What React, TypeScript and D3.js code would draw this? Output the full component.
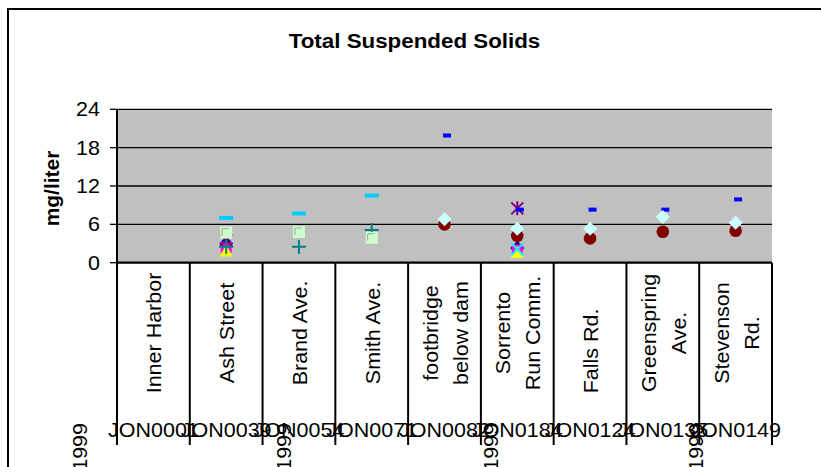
import React from "react";
import * as d3 from "d3";

// ---- data ----
const stations = [
  "Inner Harbor",
  "Ash Street",
  "Brand Ave.",
  "Smith Ave.",
  "footbridge\nbelow dam",
  "Sorrento\nRun Comm.",
  "Falls Rd.      ",
  "Greenspring\nAve.",
  "Stevenson\nRd.",
];
const stationCodes = [
  "JON0001", "JON0039", "JON0054", "JON0071", "JON0082",
  "JON0184", "JON0124", "JON0135", "JON0149",
];
const yearLabels = ["1999", "1999", "1999", "1999"];
const yearLabelPos = [-1.0, 1.8, 4.65, 7.46];
const yTicks = [0, 6, 12, 18, 24];

const s1 = [null, 3.0, null, null, null, 2.3, null, null, null];
const s2 = [null, 2.4, null, null, null, 2.0, null, null, null];
const s3 = [null, 1.9, null, null, null, 1.7, null, null, null];
const s4 = [null, null, null, null, null, 2.1, null, null, null];
const s5 = [null, 3.5, null, null, null, 8.5, null, null, null];
const s6 = [null, null, null, null, 6.0, 4.2, 3.8, 4.85, 5.0];
const s7 = [null, 2.5, 2.5, 5.1, null, null, null, null, null];
const s8 = [null, null, null, null, 19.9, 8.3, 8.3, 8.3, 9.9];
const s9 = [null, 7.0, 7.7, 10.5, null, null, null, null, null];
const s10 = [null, null, null, null, 6.8, 5.3, 5.3, 7.15, 6.25];
const s11 = [null, 4.7, 4.8, 3.9, null, null, null, null, null];

type Marker = "diamond" | "square" | "triangle" | "x" | "star" | "circle" | "plus" | "dash" | "longdash" | "square2";
const seriesList: { values: (number | null)[]; color: string; marker: Marker }[] = [
  { values: s1, color: "#000080", marker: "diamond" },
  { values: s2, color: "#FF00FF", marker: "square" },
  { values: s3, color: "#FFFF00", marker: "triangle" },
  { values: s4, color: "#00FFFF", marker: "x" },
  { values: s5, color: "#800080", marker: "star" },
  { values: s6, color: "#800000", marker: "circle" },
  { values: s7, color: "#008080", marker: "plus" },
  { values: s8, color: "#0000FF", marker: "dash" },
  { values: s9, color: "#00CCFF", marker: "longdash" },
  { values: s10, color: "#CCFFFF", marker: "diamond" },
  { values: s11, color: "#CCFFCC", marker: "square2" },
];

const FONT = "'Liberation Sans', Arial, Helvetica, sans-serif";
const FS = 20;
const SX = 1.075;

function MarkerShape({ m, color }: { m: Marker; color: string }) {
  switch (m) {
    case "diamond":
      return <path d="M0,-7L7,0L0,7L-7,0Z" fill={color} />;
    case "square":
      return <rect x={-5.5} y={-5.5} width={11} height={11} fill={color} />;
    case "square2":
      return (
        <g>
          <rect x={-6} y={-6} width={12} height={12} fill={color} />
          <path d="M-4,3V-4H3" fill="none" stroke="#A0A0A0" strokeWidth={1} />
        </g>
      );
    case "triangle":
      return <path d="M0,-6L6.5,6H-6.5Z" fill={color} />;
    case "x":
      return <path d="M-6,-6L6,6M6,-6L-6,6" stroke={color} strokeWidth={2} fill="none" />;
    case "star":
      return <path d="M-6,-6L6,6M6,-6L-6,6M0,-7V7" stroke={color} strokeWidth={2} fill="none" />;
    case "circle":
      return <circle r={6.3} fill={color} />;
    case "plus":
      return <path d="M-7,0H7M0,-7V7" stroke={color} strokeWidth={2} fill="none" />;
    case "dash":
      return <rect x={-1.5} y={-2} width={8} height={4} fill={color} />;
    case "longdash":
      return <rect x={-7} y={-2} width={14} height={4} fill={color} />;
  }
  return null;
}

export default function App() {
  const W = 821;
  const H = 467;
  const left = 117, right = 772, top = 109.3, bottom = 262.7;
  const x = d3.scaleBand<string>().domain(stations).range([left, right]).padding(0);
  const y = d3.scaleLinear().domain([0, 24]).range([bottom, top]);
  const bw = x.bandwidth();
  const cx = (i: number) => left + (i + 0.5) * bw;

  const textStyle = { fontFamily: FONT, fontSize: FS, fill: "#000" } as const;

  return (
    <svg width={W} height={H} style={{ position: "absolute", left: 0, top: 0, background: "#fff" }}>
      <rect x={0} y={0} width={W} height={H} fill="#fff" />
      {/* outer frame */}
      <rect x={8} y={9} width={W + 100} height={H + 100} fill="none" stroke="#000" strokeWidth={2} />

      {/* title */}
      <text
        transform={`translate(${414.5},${47.5}) scale(${SX},1)`}
        textAnchor="middle"
        style={{ ...textStyle, fontWeight: "bold", fontSize: 20.8 }}
      >
        Total Suspended Solids
      </text>

      {/* plot area */}
      <rect x={left} y={top} width={right - left} height={bottom - top} fill="#C0C0C0" />
      {yTicks.filter((t) => t > 0).map((t) => (
        <line key={t} x1={left} x2={right} y1={y(t)} y2={y(t)} stroke="#000" strokeWidth={1.3} />
      ))}

      {/* y axis */}
      <line x1={left} x2={left} y1={top} y2={bottom} stroke="#000" strokeWidth={2} />
      {yTicks.map((t) => (
        <g key={t}>
          <line x1={left - 7} x2={left} y1={y(t)} y2={y(t)} stroke="#000" strokeWidth={1.3} />
          <text
            transform={`translate(${100},${y(t) + 7}) scale(${SX},1)`}
            textAnchor="end"
            style={textStyle}
          >
            {t}
          </text>
        </g>
      ))}
      <text
        transform={`translate(${59},${188.5}) rotate(-90) scale(${SX},1)`}
        textAnchor="middle"
        style={{ ...textStyle, fontWeight: "bold", fontSize: 19.5 }}
      >
        mg/liter
      </text>

      {/* category axis */}
      <line x1={left} x2={right} y1={bottom} y2={bottom} stroke="#000" strokeWidth={2.2} />
      {d3.range(stations.length + 1).map((i) => (
        <line key={i} x1={left + i * bw} x2={left + i * bw} y1={bottom} y2={445} stroke="#000" strokeWidth={2} />
      ))}
      {stations.map((s, i) => {
        const lines = s.split("\n");
        const n = lines.length;
        return lines.map((ln, j) => (
          <text
            key={i + "-" + j}
            transform={`translate(${cx(i) + 8 + (j - (n - 1) / 2) * 30},${333}) rotate(-90) scale(${SX},1)`}
            textAnchor="middle"
            style={{ ...textStyle, whiteSpace: "pre" }}
          >
            {ln}
          </text>
        ));
      })}
      {stationCodes.map((c, i) => (
        <text
          key={c}
          transform={`translate(${cx(i)},${436.5}) scale(${SX},1)`}
          textAnchor="middle"
          style={textStyle}
        >
          {c}
        </text>
      ))}
      {yearLabels.map((yl, i) => (
        <text
          key={i}
          transform={`translate(${cx(yearLabelPos[i]) + 6.5},${423}) rotate(-90) scale(${SX},1)`}
          textAnchor="end"
          style={textStyle}
        >
          {yl}
        </text>
      ))}

      {/* markers */}
      {seriesList.map((s, si) => (
        <g key={si}>
          {s.values.map((v, i) =>
            v == null ? null : (
              <g key={i} transform={`translate(${cx(i)},${y(v)})`}>
                <MarkerShape m={s.marker} color={s.color} />
              </g>
            )
          )}
        </g>
      ))}
    </svg>
  );
}
